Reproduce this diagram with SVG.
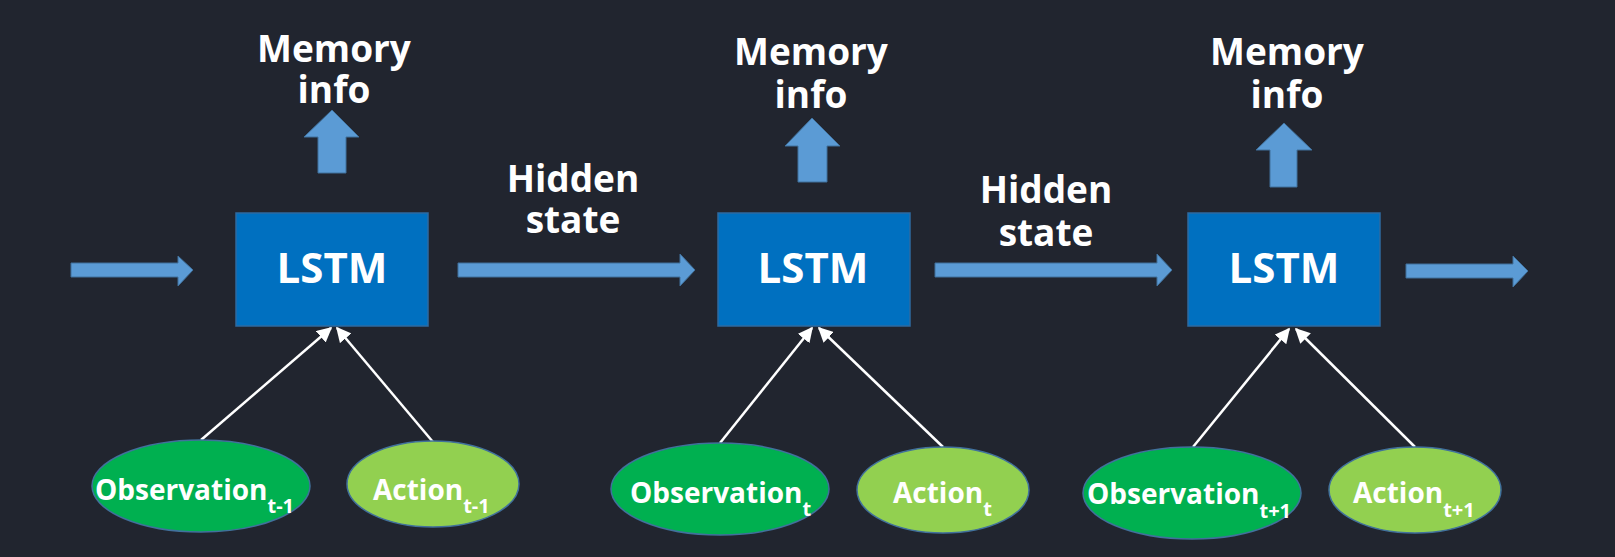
<svg xmlns="http://www.w3.org/2000/svg" width="1615" height="557" viewBox="0 0 1615 557">
<defs>
<style>
.bg{fill:#21252f}
.blk{fill:#5b9bd5;stroke:#41719c;stroke-width:1}
.box{fill:#0070c0;stroke:#2e6aa0;stroke-width:1.5}
.obs{fill:#00b050;stroke:#41719c;stroke-width:1.5}
.act{fill:#92d050;stroke:#41719c;stroke-width:1.5}
.lbl{font-family:"Open Sans","Segoe UI","DejaVu Sans",sans-serif;font-weight:bold;fill:#ffffff}
.big{font-size:37px;text-anchor:middle}
.lstm{font-size:42px;text-anchor:middle}
.el{font-size:28px}
.sub{font-size:20px}
.wl{stroke:#ffffff;stroke-width:2.5;fill:none;marker-end:url(#ah)}
</style>
<marker id="ah" viewBox="0 0 10 10" refX="9" refY="5" markerWidth="6" markerHeight="6" orient="auto" markerUnits="strokeWidth">
<path d="M0,0 L10,5 L0,10 z" fill="#ffffff"/>
</marker>
</defs>
<rect class="bg" x="0" y="0" width="1615" height="557"/>

<g id="connectors">
<polygon id="arrow-in" class="blk" points="71,263 178,263 178,256 193,270 178,286 178,277 71,277"/>
<polygon id="arrow-hidden1" class="blk" points="458,263 680,263 680,254 695,270 680,286 680,277 458,277"/>
<polygon id="arrow-hidden2" class="blk" points="935,263 1157,263 1157,254 1172,270 1157,286 1157,277 935,277"/>
<polygon id="arrow-out" class="blk" points="1406,264 1513,264 1513,256 1528,271 1513,287 1513,278 1406,278"/>
<polygon id="up1" class="blk" points="318,173 318,137 304,137 332,110 359,137 346,137 346,173"/>
<polygon id="up2" class="blk" points="798,182 798,146 785,146 812,118 840,146 827,146 827,182"/>
<polygon id="up3" class="blk" points="1270,187 1270,150 1256,150 1284,123 1312,150 1297,150 1297,187"/>
<line class="wl" x1="201" y1="440" x2="331" y2="328"/>
<line class="wl" x1="433" y1="442" x2="337" y2="328"/>
<line class="wl" x1="720" y1="443" x2="812" y2="328"/>
<line class="wl" x1="943" y1="447" x2="819" y2="328"/>
<line class="wl" x1="1193" y1="447" x2="1289" y2="329"/>
<line class="wl" x1="1415" y1="447" x2="1296" y2="329"/>
</g>

<g id="label-memory1"><text class="lbl big" x="334" y="62">Memory</text><text class="lbl big" x="334" y="103">info</text></g>
<g id="label-memory2"><text class="lbl big" x="811" y="65">Memory</text><text class="lbl big" x="811" y="108">info</text></g>
<g id="label-memory3"><text class="lbl big" x="1287" y="65">Memory</text><text class="lbl big" x="1287" y="108">info</text></g>
<g id="label-hidden1"><text class="lbl big" x="573" y="192">Hidden</text><text class="lbl big" x="573" y="233">state</text></g>
<g id="label-hidden2"><text class="lbl big" x="1046" y="203">Hidden</text><text class="lbl big" x="1046" y="246">state</text></g>

<g id="lstm1"><rect class="box" x="236" y="213" width="192" height="113"/><text class="lbl lstm" x="332" y="283">LSTM</text></g>
<g id="lstm2"><rect class="box" x="718" y="213" width="192" height="113"/><text class="lbl lstm" x="813" y="283">LSTM</text></g>
<g id="lstm3"><rect class="box" x="1188" y="213" width="192" height="113"/><text class="lbl lstm" x="1284" y="283">LSTM</text></g>

<g id="obs1"><ellipse class="obs" cx="201" cy="486" rx="109" ry="46"/><text class="lbl el" x="95" y="500">Observation<tspan class="sub" dy="13">t-1</tspan></text></g>
<g id="act1"><ellipse class="act" cx="433" cy="484" rx="86" ry="43"/><text class="lbl el" x="373" y="500">Action<tspan class="sub" dy="13">t-1</tspan></text></g>
<g id="obs2"><ellipse class="obs" cx="720" cy="489" rx="109" ry="46"/><text class="lbl el" x="630" y="503">Observation<tspan class="sub" dy="13">t</tspan></text></g>
<g id="act2"><ellipse class="act" cx="943" cy="490" rx="86" ry="43"/><text class="lbl el" x="893" y="503">Action<tspan class="sub" dy="13">t</tspan></text></g>
<g id="obs3"><ellipse class="obs" cx="1192" cy="493" rx="109" ry="46"/><text class="lbl el" x="1087" y="504">Observation<tspan class="sub" dy="14">t+1</tspan></text></g>
<g id="act3"><ellipse class="act" cx="1415" cy="490" rx="86" ry="43"/><text class="lbl el" x="1353" y="503">Action<tspan class="sub" dy="14">t+1</tspan></text></g>
</svg>
